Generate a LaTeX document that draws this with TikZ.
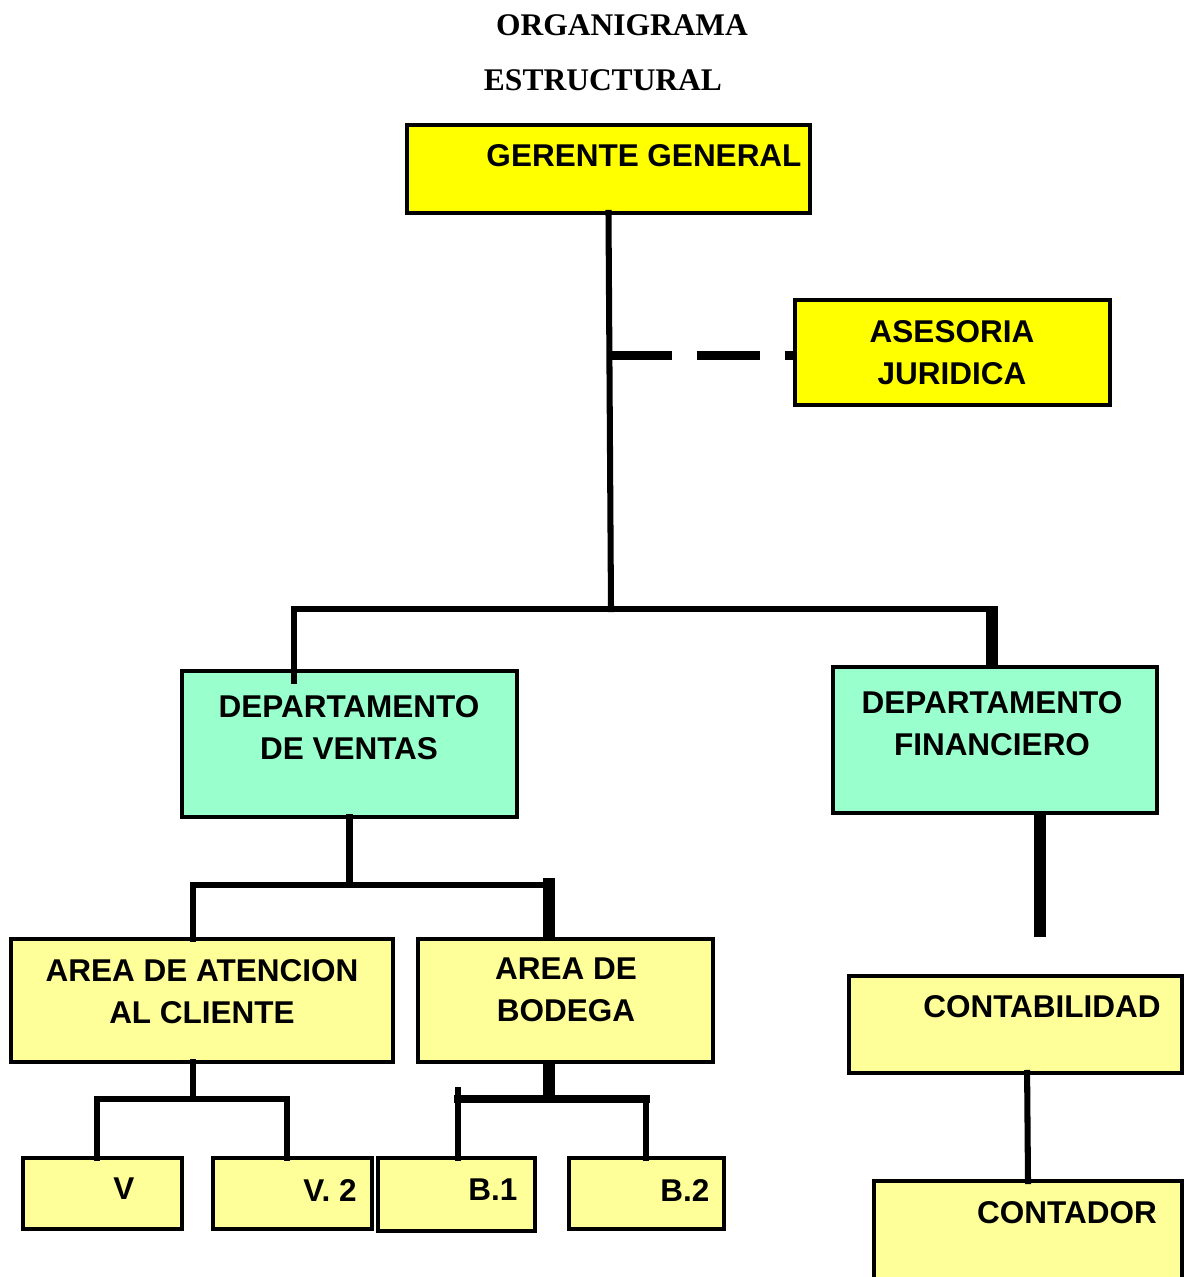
\documentclass[tikz,border=0pt]{standalone}
\usepackage{fontspec}
\setmainfont{Liberation Serif}
\setsansfont{Liberation Sans}
\usetikzlibrary{fit}
\definecolor{gerenteYellow}{HTML}{FFFF00}
\definecolor{deptGreen}{HTML}{99FFCC}
\definecolor{areaYellow}{HTML}{FFFF99}
\begin{document}
\begin{tikzpicture}[
  x=0.025cm, y=-0.025cm,
  box/.style={
    draw=black,
    line width=2.8pt,
    inner sep=0pt,
    outer sep=0pt,
  },
  topBox/.style={box, fill=gerenteYellow},
  deptBox/.style={box, fill=deptGreen},
  areaBox/.style={box, fill=areaYellow},
  boxText/.style={
    font=\sffamily\bfseries\fontsize{22.4}{30}\selectfont,
    align=center,
    inner sep=0pt,
  },
  titleText/.style={
    font=\rmfamily\bfseries\fontsize{22.4}{26}\selectfont,
    inner sep=0pt,
  },
  link/.style={line width=4.3pt, line cap=rect},
  thickLink/.style={line width=8.5pt},
  dashLink/.style={line width=5.7pt, dash pattern=on 1.575cm off 0.625cm},
]
\useasboundingbox (0,0) rectangle (1187,1277);

\node[titleText] (title1) at (622,25) {ORGANIGRAMA};
\node[titleText] (title2) at (603,80) {ESTRUCTURAL};

\node[topBox, fit={(407,125) (810,213)}] (gg) {};
\node[boxText] (gg-t) at (644,156) {GERENTE GENERAL};
\node[topBox, fit={(795,300) (1110,405)}] (as) {};
\node[boxText] (as-t) at (952,353) {ASESORIA\\JURIDICA};

\node[deptBox, fit={(182,671) (517,817)}] (dv) {};
\node[boxText] (dv-t) at (349,728) {DEPARTAMENTO\\DE VENTAS};
\node[deptBox, fit={(833,667) (1157,813)}] (df) {};
\node[boxText] (df-t) at (992,724) {DEPARTAMENTO\\FINANCIERO};

\node[areaBox, fit={(11,939) (393,1062)}] (aa) {};
\node[boxText] (aa-t) at (202,992) {AREA DE ATENCION\\AL CLIENTE};
\node[areaBox, fit={(418,939) (713,1062)}] (ab) {};
\node[boxText] (ab-t) at (566,990) {AREA DE\\BODEGA};
\node[areaBox, fit={(849,976) (1182,1073)}] (cb) {};
\node[boxText] (cb-t) at (1042,1007) {CONTABILIDAD};
\node[areaBox, fit={(874,1181) (1182,1300)}] (ct) {};
\node[boxText] (ct-t) at (1067,1213) {CONTADOR};

\node[areaBox, fit={(23,1158) (182,1229)}] (v1) {};
\node[boxText] (v1-t) at (124,1189) {V};
\node[areaBox, fit={(213,1158) (372,1229)}] (v2) {};
\node[boxText] (v2-t) at (330,1190) {V. 2};
\node[areaBox, fit={(378,1158) (535,1231)}] (b1) {};
\node[boxText] (b1-t) at (493,1190) {B.1};
\node[areaBox, fit={(569,1158) (724,1229)}] (b2) {};
\node[boxText] (b2-t) at (685,1190) {B.2};

% gerente
\coordinate (hub) at (611,609);
\coordinate (hubL) at (294,609);
\coordinate (hubR) at (992,609);
\draw[link] (gg.south) -- (hub);
\draw[dashLink] ([yshift=-0.075cm]gg.south |- as.west) -- ([yshift=-0.075cm]as.west);
\draw[link] (hubL) -- (hubR);
\draw[link] (hubL) -- ([yshift=-0.25cm]hubL |- dv.north);
\draw[thickLink] ([yshift=0.075cm]hubR) -- (hubR |- df.north);

% ventas
\coordinate (vHub) at (349.5,885);
\coordinate (vL) at (193,885);
\coordinate (vR) at (549,885);
\draw[link] (dv.south) -- (vHub);
\draw[link] (vL) -- (vR);
\draw[link] (vL) -- (vL |- aa.north);
\draw[thickLink] ([yshift=0.175cm]vR) -- (vR |- ab.north);

% financiero
\coordinate (fEnd) at (1040,937);
\draw[thickLink] (fEnd |- df.south) -- (fEnd);
\draw[link] ([xshift=0.29cm]cb.south) -- (ct.north);

% atencion
\coordinate (aHub) at (193,1099);
\coordinate (aL) at (97,1099);
\coordinate (aR) at (287,1099);
\draw[link] (aHub |- aa.south) -- (aHub);
\draw[link] (aL) -- (aR);
\draw[link] (aL) -- (aL |- v1.north);
\draw[link] (aR) -- (aR |- v2.north);

% bodega
\coordinate (bHub) at (549,1099);
\coordinate (bL) at (458,1099);
\coordinate (bR) at (646,1099);
\draw[thickLink] (bHub |- ab.south) -- (bHub);
\draw[link, line width=5.5pt] (bL) -- (bR);
\draw[link] ([yshift=0.225cm]bL) -- (bL |- b1.north);
\draw[link] (bR) -- (bR |- b2.north);
\end{tikzpicture}
\end{document}
